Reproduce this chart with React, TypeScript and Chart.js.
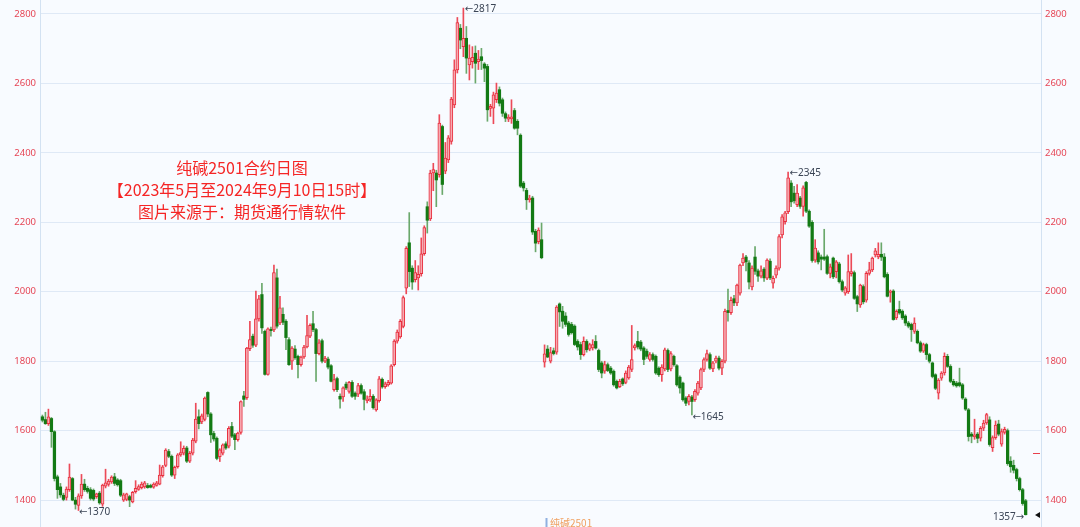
import React, { useEffect, useRef } from "react";
import { Chart, registerables } from "chart.js";

Chart.register(...registerables);

// ---- Data: daily candles (open/high/low/close), index 0 = first trading day ----
const opens = [
  1640,1632,1620,1635,1597,1467,1438,1414,1408,1430,
  1462,1400,1385,1412,1446,1434,1430,1428,1410,1420,
  1388,1440,1445,1452,1467,1458,1456,1400,1402,1410,
  1395,1424,1431,1436,1438,1442,1442,1437,1442,1446,
  1470,1500,1540,1526,1472,1496,1530,1535,1550,1512,
  1535,1570,1640,1625,1632,1710,1648,1592,1578,1525,
  1535,1562,1555,1612,1588,1574,1595,1700,1695,1836,
  1872,1846,1922,1992,1886,1762,1892,1890,2040,1910,
  1935,1915,1862,1800,1835,1814,1790,1812,1841,1872,
  1908,1891,1822,1859,1800,1806,1787,1718,1750,1699,
  1697,1734,1713,1739,1708,1705,1730,1712,1686,1690,
  1699,1660,1686,1748,1727,1732,1737,1790,1858,1870,
  1900,2010,2141,2068,2035,2040,2052,2110,2245,2210,
  2342,2342,2337,2476,2347,2380,2433,2538,2639,2759,
  2706,2730,2653,2663,2687,2663,2677,2656,2649,2528,
  2529,2553,2582,2553,2513,2497,2498,2522,2491,2451,
  2313,2292,2265,2270,2174,2144,2150,1797,1835,1800,
  1830,1826,1965,1944,1930,1910,1906,1901,1857,1848,
  1819,1857,1835,1838,1857,1831,1795,1771,1790,1780,
  1771,1742,1727,1749,1739,1752,1776,1838,1857,1855,
  1838,1829,1805,1819,1814,1780,1761,1778,1831,1778,
  1814,1787,1754,1737,1694,1684,1697,1689,1708,1723,
  1776,1805,1819,1778,1800,1809,1780,1800,1946,1940,
  1980,1968,1996,2083,2100,2083,2014,2100,2060,2045,
  2065,2039,2088,2025,2048,2068,2164,2202,2231,2313,
  2284,2251,2270,2246,2315,2232,2200,2091,2112,2100,
  2100,2101,2053,2097,2058,2080,2029,1996,2000,2052,
  2055,1986,1962,2015,1976,2053,2063,2106,2100,2108,
  2100,2050,1998,2002,1925,1949,1944,1930,1910,1906,
  1886,1886,1853,1829,1848,1819,1795,1761,1708,1751,
  1766,1814,1785,1742,1737,1738,1732,1691,1660,1590,
  1582,1590,1578,1607,1622,1631,1551,1580,1619,1561,
  1595,1600,1512,1500,1488,1462,1430,1398,
];

const highs = [
  1645,1653,1662,1638,1600,1472,1448,1420,1438,1504,
  1465,1408,1418,1474,1460,1440,1436,1432,1420,1425,
  1446,1489,1460,1470,1477,1462,1460,1420,1420,1414,
  1425,1456,1444,1452,1454,1448,1446,1450,1454,1501,
  1500,1548,1546,1530,1498,1534,1568,1556,1555,1540,
  1578,1679,1660,1648,1697,1712,1652,1598,1582,1548,
  1562,1568,1612,1624,1592,1596,1686,1713,1840,1915,
  1878,2002,1990,2024,1890,1896,1898,2077,2065,1987,
  1954,1920,1868,1842,1845,1818,1815,1846,1932,1908,
  1944,1895,1862,1864,1814,1812,1790,1762,1754,1706,
  1726,1740,1742,1744,1712,1736,1735,1718,1700,1718,
  1704,1692,1756,1752,1740,1745,1790,1862,1890,1920,
  1988,2130,2228,2075,2090,2075,2155,2190,2259,2350,
  2370,2350,2510,2480,2430,2450,2560,2668,2790,2770,
  2817,2764,2711,2706,2708,2695,2701,2660,2655,2540,
  2575,2601,2590,2558,2518,2510,2553,2528,2496,2455,
  2318,2298,2278,2275,2180,2184,2198,1847,1845,1840,
  1838,1960,1968,1958,1940,1915,1912,1905,1862,1855,
  1870,1862,1852,1862,1874,1835,1800,1800,1795,1785,
  1775,1746,1748,1752,1772,1788,1903,1850,1886,1860,
  1842,1835,1825,1824,1818,1784,1790,1838,1836,1828,
  1818,1790,1758,1740,1698,1704,1702,1718,1742,1780,
  1810,1832,1824,1800,1815,1815,1805,1950,2008,1985,
  1990,2022,2080,2110,2105,2090,2075,2130,2065,2075,
  2070,2095,2095,2045,2075,2165,2222,2232,2345,2320,
  2304,2309,2275,2305,2318,2236,2205,2150,2118,2106,
  2180,2106,2080,2100,2090,2085,2034,2015,2106,2110,
  2060,1990,2022,2020,2058,2085,2100,2125,2141,2141,
  2110,2055,2005,2006,1948,1973,1948,1934,1915,1910,
  1925,1890,1858,1852,1852,1823,1798,1764,1750,1770,
  1824,1820,1790,1748,1742,1780,1736,1695,1664,1595,
  1633,1595,1612,1630,1650,1640,1585,1628,1630,1605,
  1610,1605,1525,1515,1492,1466,1434,1402,
];

const lows = [
  1625,1618,1615,1552,1455,1405,1408,1398,1400,1425,
  1398,1374,1370,1405,1425,1420,1400,1398,1405,1388,
  1382,1435,1440,1448,1442,1440,1410,1396,1398,1381,
  1392,1420,1428,1432,1434,1434,1435,1434,1440,1444,
  1466,1496,1522,1468,1462,1492,1526,1530,1508,1508,
  1530,1565,1605,1620,1628,1640,1566,1570,1516,1511,
  1530,1546,1550,1580,1545,1570,1590,1670,1690,1830,
  1840,1842,1915,1880,1760,1760,1872,1885,1895,1905,
  1905,1833,1788,1776,1805,1752,1786,1808,1838,1868,
  1885,1742,1818,1795,1796,1778,1740,1714,1712,1665,
  1684,1718,1708,1696,1690,1698,1705,1660,1680,1684,
  1662,1656,1682,1722,1722,1728,1734,1786,1852,1866,
  1896,1994,2015,2007,2028,2005,2045,2105,2169,2205,
  2291,2245,2330,2280,2340,2372,2425,2530,2630,2700,
  2677,2629,2610,2644,2601,2640,2640,2605,2491,2505,
  2484,2545,2535,2505,2490,2490,2485,2468,2452,2300,
  2290,2237,2258,2165,2115,2138,2095,1783,1810,1795,
  1818,1820,1900,1895,1900,1872,1878,1845,1832,1805,
  1815,1826,1830,1832,1835,1770,1752,1765,1770,1762,
  1728,1720,1724,1730,1735,1748,1770,1832,1835,1830,
  1790,1808,1800,1800,1762,1756,1742,1772,1770,1772,
  1786,1728,1708,1685,1672,1674,1645,1684,1702,1718,
  1770,1800,1776,1770,1795,1775,1761,1795,1915,1935,
  1960,1960,1990,2075,2060,2008,2005,2050,2030,2040,
  2030,2035,2035,2010,2040,2062,2155,2195,2225,2245,
  2255,2245,2240,2218,2228,2185,2085,2085,2080,2063,
  2090,2050,2040,2038,2040,2025,2000,1990,1995,2045,
  1978,1943,1955,1965,1970,2048,2058,2100,2095,2090,
  2040,1985,1970,1918,1920,1935,1920,1903,1896,1857,
  1880,1850,1825,1825,1805,1795,1752,1718,1691,1745,
  1760,1782,1738,1728,1725,1726,1690,1658,1570,1565,
  1575,1565,1570,1600,1618,1555,1540,1575,1585,1555,
  1590,1500,1480,1478,1455,1426,1385,1357,
];

const closes = [
  1630,1620,1640,1597,1462,1430,1415,1402,1432,1466,
  1400,1388,1412,1446,1430,1425,1405,1403,1418,1392,
  1443,1450,1455,1466,1448,1444,1414,1415,1418,1400,
  1422,1434,1439,1446,1450,1436,1437,1446,1450,1472,
  1496,1544,1526,1472,1494,1530,1537,1549,1512,1535,
  1573,1633,1620,1643,1694,1648,1588,1576,1520,1545,
  1559,1550,1607,1584,1574,1593,1684,1690,1838,1862,
  1846,1922,1980,1896,1762,1893,1888,2055,1901,1954,
  1912,1868,1790,1838,1810,1790,1812,1841,1874,1903,
  1891,1822,1853,1800,1809,1783,1742,1747,1718,1691,
  1723,1723,1739,1699,1699,1730,1708,1690,1691,1699,
  1666,1689,1749,1726,1735,1739,1787,1858,1884,1915,
  1983,2125,2058,2028,2055,2050,2109,2185,2206,2342,
  2352,2322,2486,2309,2385,2443,2555,2639,2775,2725,
  2730,2673,2673,2675,2658,2670,2666,2644,2524,2534,
  2567,2572,2543,2514,2500,2503,2504,2471,2471,2304,
  2299,2265,2270,2172,2140,2178,2098,1821,1812,1825,
  1822,1956,1942,1915,1906,1877,1882,1848,1841,1819,
  1857,1833,1848,1848,1838,1776,1766,1790,1773,1766,
  1732,1723,1742,1735,1766,1783,1805,1845,1841,1835,
  1805,1814,1819,1805,1766,1761,1783,1833,1776,1822,
  1790,1732,1723,1689,1679,1699,1684,1713,1737,1776,
  1805,1822,1780,1795,1809,1780,1800,1944,1940,1975,
  1968,2019,2077,2097,2086,2028,2068,2059,2045,2060,
  2040,2091,2040,2039,2068,2159,2216,2227,2328,2259,
  2262,2284,2246,2299,2232,2189,2090,2126,2086,2094,
  2094,2053,2072,2043,2086,2029,2005,2011,2058,2058,
  1981,1965,2019,1971,2053,2063,2097,2118,2108,2100,
  2043,1987,2002,1920,1944,1939,1925,1910,1901,1891,
  1910,1853,1829,1848,1819,1800,1756,1722,1746,1766,
  1814,1785,1742,1732,1729,1730,1694,1662,1583,1584,
  1588,1578,1607,1622,1646,1560,1580,1616,1590,1597,
  1604,1505,1496,1486,1462,1430,1390,1358,
];

const yTicks = [1400, 1600, 1800, 2000, 2200, 2400, 2600, 2800];

// labelled extremes: candle index, price, arrow side
const extremeIdx = [140, 248, 216, 12, 327];
const extremeVal = [2817, 2345, 1645, 1370, 1357];
const extremeKind = ["high", "high", "low", "low", "lowRight"];

const titleLines = [
  "纯碱2501合约日图",
  "【2023年5月至2024年9月10日15时】",
  "图片来源于：期货通行情软件",
];
const contractName = "纯碱2501";
const refLineValue = 1536;

const Y_MIN = 1322.5;
const Y_MAX = 2840.3;
const X_MIN = -0.8;
const X_MAX = 332.1;

const UP_LINE = "#e8303f";
const UP_WICK = "#ec4a58";
const UP_FILL = "#f6aab2";
const DOWN_FILL = "#137a14";
const DOWN_WICK = "#6aa86b";
const BG = "#f8fbff";
const GRID = "#dfe9f6";
const AXIS_LINE = "#d3e2f2";
const TICK_COLOR = "#e64656";

export default function App() {
  const canvasRef = useRef<HTMLCanvasElement | null>(null);

  useEffect(() => {
    document.body.style.margin = "0";
    const canvas = canvasRef.current;
    if (!canvas) return;

    const idx = opens.map((_, i) => i);
    const isUp = (i: number) => closes[i] >= opens[i];

    const wickData = idx.map((i) => ({ x: i, y: [lows[i], highs[i]] }));
    const wickColors = idx.map((i) => (isUp(i) ? UP_WICK : DOWN_WICK));
    const upBodies = idx
      .filter((i) => isUp(i))
      .map((i) => ({ x: i, y: [opens[i], closes[i]] }));
    const downBodies = idx
      .filter((i) => !isUp(i))
      .map((i) => ({ x: i, y: [closes[i], opens[i]] }));

    const overlay = {
      id: "overlay",
      beforeDraw(chart: any) {
        const c = chart.ctx;
        c.save();
        c.fillStyle = BG;
        c.fillRect(0, 0, chart.width, chart.height);
        c.restore();
      },
      afterDatasetsDraw(chart: any) {
        const c = chart.ctx;
        const xs = chart.scales.x;
        const ys = chart.scales.y;
        c.save();
        // title block
        c.fillStyle = "#f52525";
        c.font = '16px "Noto Sans CJK SC", sans-serif';
        c.textAlign = "center";
        c.textBaseline = "middle";
        titleLines.forEach((t, k) => c.fillText(t, 242, 168 + k * 22));

        // extreme labels
        c.fillStyle = "#3b4556";
        c.font = '10px "Noto Sans", "DejaVu Sans", sans-serif';
        extremeIdx.forEach((ix, k) => {
          const px = xs.getPixelForValue(ix);
          const py = ys.getPixelForValue(extremeVal[k]);
          const kind = extremeKind[k];
          if (kind === "high") {
            c.textAlign = "left";
            c.textBaseline = "middle";
            c.fillText("←" + extremeVal[k], px + 1.5, py + 1);
          } else if (kind === "low") {
            c.textAlign = "left";
            c.textBaseline = "middle";
            c.fillText("←" + extremeVal[k], px + 0.5, py + 2);
          } else {
            c.textAlign = "right";
            c.textBaseline = "middle";
            c.fillText(extremeVal[k] + "→", px - 1.5, py + 2);
          }
        });

        // contract name at bottom
        c.fillStyle = "#8fb0e0";
        c.fillRect(545.5, 518, 2, 9);
        c.fillStyle = "#f0a060";
        c.font = '10px "Noto Sans CJK SC", sans-serif';
        c.textAlign = "left";
        c.textBaseline = "middle";
        c.fillText(contractName, 550, 523);

        // right-side markers
        const right = chart.chartArea.right;
        const ry = ys.getPixelForValue(refLineValue);
        c.strokeStyle = "#e8404c";
        c.lineWidth = 1;
        c.beginPath();
        c.moveTo(right - 8, Math.round(ry) + 0.5);
        c.lineTo(right - 1, Math.round(ry) + 0.5);
        c.stroke();
        const last = closes.length - 1;
        const ty = ys.getPixelForValue(lows[last]);
        c.fillStyle = "#111";
        c.beginPath();
        c.moveTo(right - 6, ty);
        c.lineTo(right - 1, ty - 3);
        c.lineTo(right - 1, ty + 3);
        c.closePath();
        c.fill();
        c.restore();
      },
    };

    const fitLeft = (s: any) => {
      s.width = 40;
      s.paddingTop = 0;
      s.paddingBottom = 0;
    };
    const fitRight = (s: any) => {
      s.width = 39;
      s.paddingTop = 0;
      s.paddingBottom = 0;
    };
    const setTicks = (s: any) => {
      s.ticks = yTicks.map((v) => ({ value: v }));
    };

    const chart = new Chart(canvas, {
      type: "bar",
      data: {
        datasets: [
          {
            label: "up",
            data: upBodies as any,
            backgroundColor: UP_FILL,
            borderColor: UP_LINE,
            borderWidth: 1,
            borderSkipped: false,
            barThickness: 3,
            minBarLength: 1,
            grouped: false,
            order: 1,
          } as any,
          {
            label: "down",
            data: downBodies as any,
            backgroundColor: DOWN_FILL,
            borderWidth: 0,
            barThickness: 2.6,
            minBarLength: 1,
            grouped: false,
            order: 2,
          } as any,
          {
            label: "wick",
            data: wickData as any,
            backgroundColor: wickColors,
            borderWidth: 0,
            barThickness: 1,
            minBarLength: 1,
            grouped: false,
            order: 3,
          } as any,
        ],
      },
      options: {
        animation: false,
        responsive: false,
        maintainAspectRatio: false,
        events: [],
        layout: { padding: 0 },
        plugins: {
          legend: { display: false },
          tooltip: { enabled: false },
          title: { display: false },
        },
        scales: {
          x: {
            type: "linear",
            display: false,
            min: X_MIN,
            max: X_MAX,
            offset: false,
            grid: { display: false, offset: false },
          },
          y: {
            type: "linear",
            position: "left",
            min: Y_MIN,
            max: Y_MAX,
            afterBuildTicks: setTicks,
            afterFit: fitLeft,
            grid: { color: GRID, lineWidth: 1, drawTicks: false },
            border: { display: true, color: AXIS_LINE, width: 1 },
            ticks: {
              color: TICK_COLOR,
              padding: 4,
              font: { family: '"Noto Sans", sans-serif', size: 9.5 },
              callback: (v: any) => String(v),
            },
          },
          y2: {
            type: "linear",
            position: "right",
            min: Y_MIN,
            max: Y_MAX,
            afterBuildTicks: setTicks,
            afterFit: fitRight,
            grid: { display: false, drawTicks: false },
            border: { display: true, color: AXIS_LINE, width: 1 },
            ticks: {
              color: TICK_COLOR,
              padding: 4,
              font: { family: '"Noto Sans", sans-serif', size: 9.5 },
              callback: (v: any) => String(v),
            },
          },
        },
      } as any,
      plugins: [overlay],
    });

    return () => chart.destroy();
  }, []);

  return (
    <div style={{ width: 1080, height: 527, overflow: "hidden" }}>
      <canvas ref={canvasRef} width={1080} height={527} style={{ display: "block" }} />
    </div>
  );
}
